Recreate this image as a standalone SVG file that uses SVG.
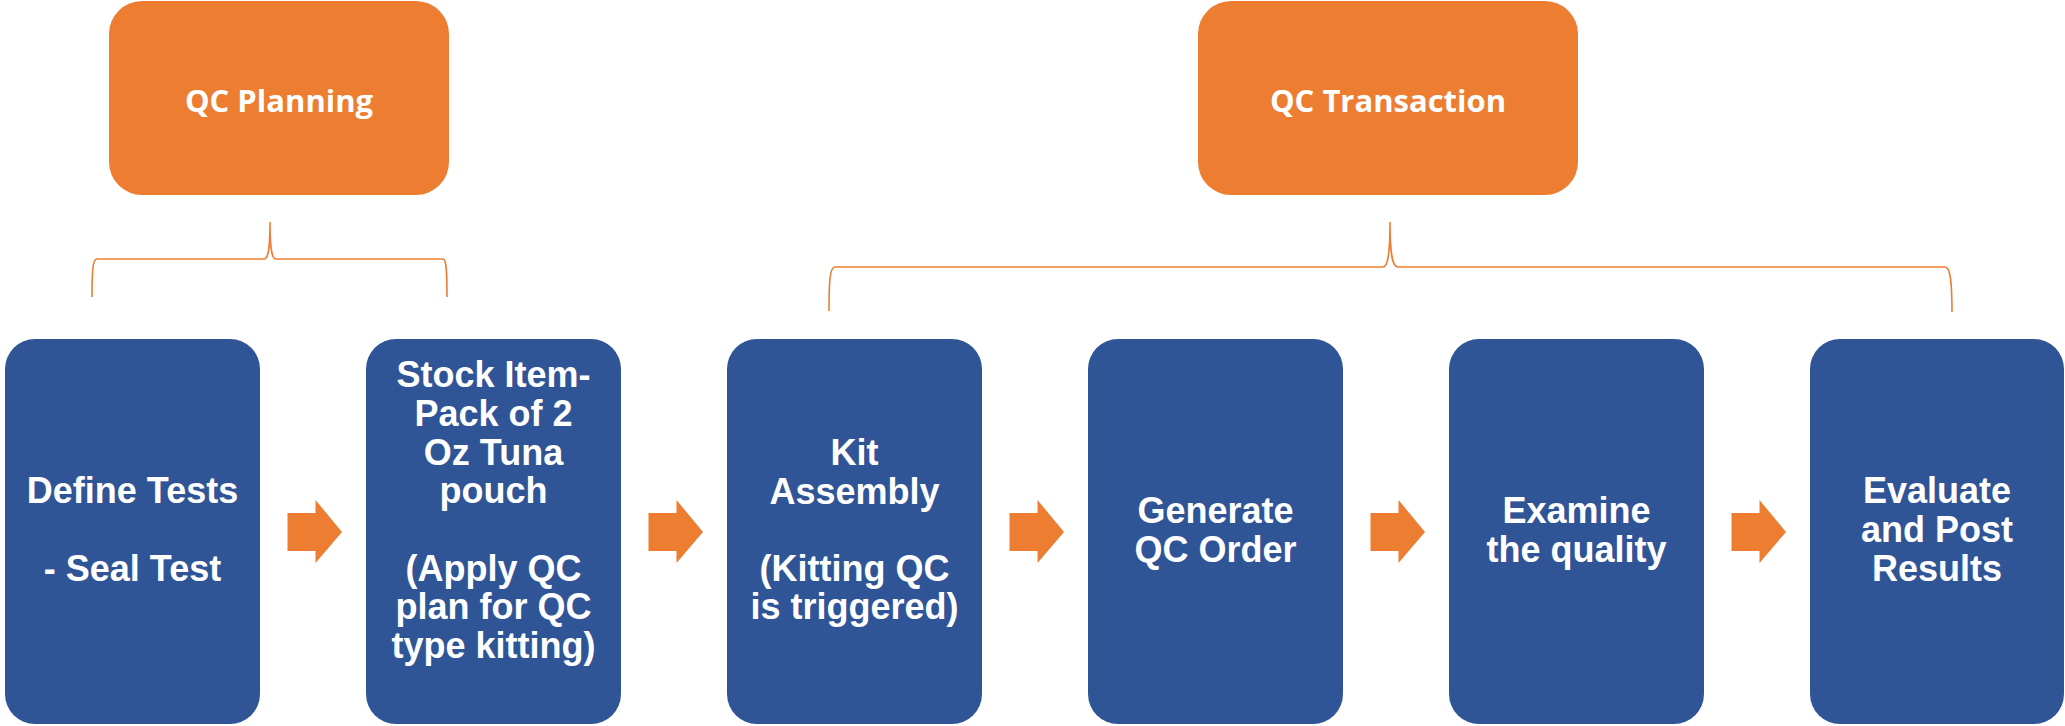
<svg xmlns="http://www.w3.org/2000/svg" width="2065" height="726" viewBox="0 0 2065 726">
<style>
.top{fill:#ED7D31}
.step{fill:#2F5597}
.arrow{fill:#ED7D31}
.brace{fill:none;stroke:#ED7D31;stroke-width:1.6}
.tt{font-family:"Open Sans","Liberation Sans",sans-serif;font-weight:700;font-size:31px;fill:#fff;text-anchor:middle}
.st{font-family:"Liberation Sans",Arial,sans-serif;font-weight:bold;font-size:36px;fill:#fff;text-anchor:middle}
</style>
<rect width="2065" height="726" fill="#fff"/>
<g id="qc-planning">
<rect class="top" x="109" y="1" width="340" height="194" rx="33" ry="33"/>
<text class="tt" x="279" y="112">QC Planning</text>
</g>
<g id="qc-transaction">
<rect class="top" x="1198" y="1" width="380" height="194" rx="33" ry="33"/>
<text class="tt" x="1388" y="112">QC Transaction</text>
</g>
<g id="connectors">
<path class="brace" d="M92,297 C92,268 93,259 97,259 L264,259 C268,259 270,250 270,222 C270,250 272,259 276,259 L443,259 C446,259 447,268 447,297"/>
<path class="brace" d="M829,311 C829,280 830,267 835,267 L1383,267 C1387,267 1390,258 1390,222 C1390,258 1393,267 1398,267 L1945,267 C1950,267 1952,280 1952,312"/>
<polygon class="arrow" points="287.5,513 315.5,513 315.5,500 342,532 315.5,563 315.5,551 287.5,551"/>
<polygon class="arrow" points="648.5,513 676.5,513 676.5,500 703,532 676.5,563 676.5,551 648.5,551"/>
<polygon class="arrow" points="1009.5,513 1037.5,513 1037.5,500 1064,532 1037.5,563 1037.5,551 1009.5,551"/>
<polygon class="arrow" points="1370.5,513 1398.5,513 1398.5,500 1425,532 1398.5,563 1398.5,551 1370.5,551"/>
<polygon class="arrow" points="1731.5,513 1759.5,513 1759.5,500 1786,532 1759.5,563 1759.5,551 1731.5,551"/>
</g>
<g id="define-tests">
<rect class="step" x="5" y="339" width="255" height="385" rx="30" ry="30"/>
<text class="st" x="132.5" y="503">Define Tests</text>
<text class="st" x="132.5" y="581">- Seal Test</text>
</g>
<g id="stock-item">
<rect class="step" x="366" y="339" width="255" height="385" rx="30" ry="30"/>
<text class="st" x="493.5" y="387">Stock Item-</text>
<text class="st" x="493.5" y="426">Pack of 2</text>
<text class="st" x="493.5" y="465">Oz Tuna</text>
<text class="st" x="493.5" y="503">pouch</text>
<text class="st" x="493.5" y="581">(Apply QC</text>
<text class="st" x="493.5" y="619">plan for QC</text>
<text class="st" x="493.5" y="658">type kitting)</text>
</g>
<g id="kit-assembly">
<rect class="step" x="727" y="339" width="255" height="385" rx="30" ry="30"/>
<text class="st" x="854.5" y="465">Kit</text>
<text class="st" x="854.5" y="504">Assembly</text>
<text class="st" x="854.5" y="581">(Kitting QC</text>
<text class="st" x="854.5" y="619">is triggered)</text>
</g>
<g id="generate-qc-order">
<rect class="step" x="1088" y="339" width="255" height="385" rx="30" ry="30"/>
<text class="st" x="1215.5" y="523">Generate</text>
<text class="st" x="1215.5" y="562">QC Order</text>
</g>
<g id="examine-quality">
<rect class="step" x="1449" y="339" width="255" height="385" rx="30" ry="30"/>
<text class="st" x="1576.5" y="523">Examine</text>
<text class="st" x="1576.5" y="562">the quality</text>
</g>
<g id="evaluate-post">
<rect class="step" x="1810" y="339" width="254" height="385" rx="30" ry="30"/>
<text class="st" x="1937" y="503">Evaluate</text>
<text class="st" x="1937" y="542">and Post</text>
<text class="st" x="1937" y="581">Results</text>
</g>
</svg>
